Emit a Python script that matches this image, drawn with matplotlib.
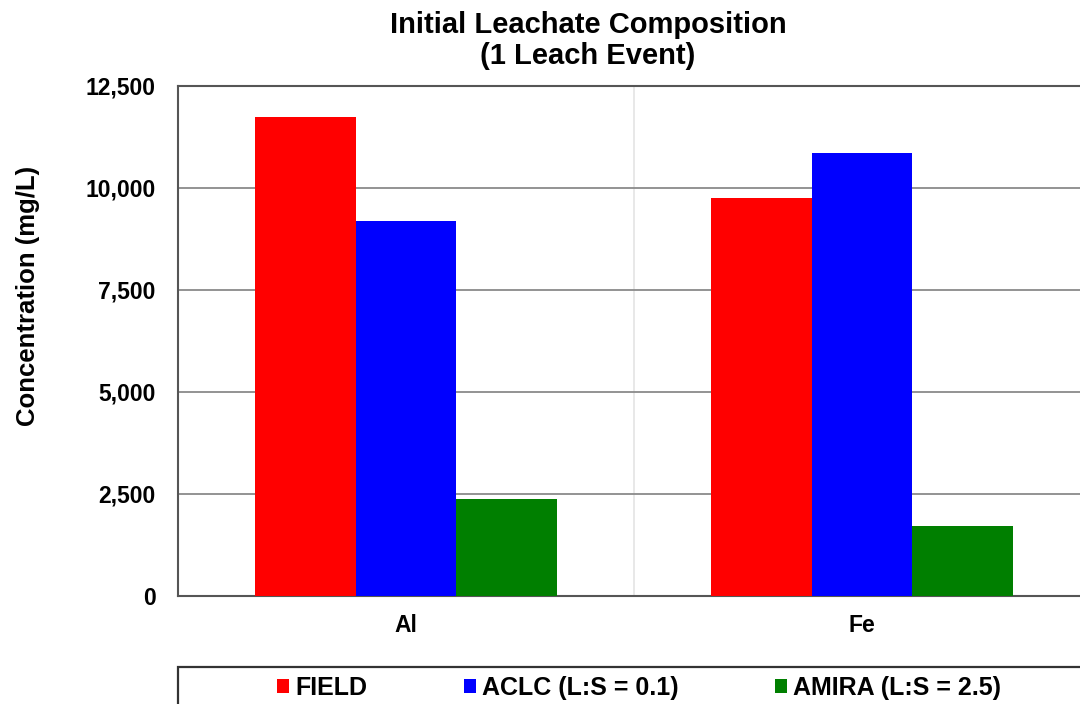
import matplotlib.pyplot as plt
from matplotlib.patches import Rectangle
import numpy as np

categories = ['Al', 'Fe']
series = ['FIELD', 'ACLC (L:S = 0.1)', 'AMIRA (L:S = 2.5)']
field = [11750, 9750]
aclc = [9200, 10850]
amira = [2380, 1720]
colors = ['#ff0000', '#0000ff', '#007f00']

plt.rcParams['font.family'] = ['Liberation Sans', 'DejaVu Sans']
plt.rcParams['font.weight'] = 'bold'

fig = plt.figure(figsize=(10.8, 7.04), dpi=100)
ax = fig.add_axes([178 / 1080, 1 - 596 / 704, 912 / 1080, 510 / 704])

x = np.arange(len(categories))
w = 0.221
for i, (vals, name) in enumerate(zip([field, aclc, amira], series)):
    ax.bar(x + (i - 1) * w, vals, w, color=colors[i], label=name, zorder=3)

ax.set_xlim(-0.5, 1.5)
ax.set_ylim(0, 12500)
ax.set_yticks(np.arange(0, 12501, 2500))
ax.set_yticklabels([f'{v:,}' for v in range(0, 12501, 2500)], fontsize=16.5, fontweight='bold')
ax.set_xticks(x)
ax.set_xticklabels(categories, fontsize=16.5, fontweight='bold')
ax.tick_params(length=0)
ax.tick_params(axis='y', pad=16)
ax.tick_params(axis='x', pad=13)
ax.yaxis.grid(True, color='#8a8a8a', linewidth=1.3, zorder=0)
ax.axvline(0.5, color='#e4e4e4', linewidth=1.2, zorder=0)
for s in ['left', 'top', 'bottom']:
    ax.spines[s].set_color('#555555')
    ax.spines[s].set_linewidth(1.5)
ax.spines['right'].set_visible(False)

ax.set_ylabel('Concentration (mg/L)', fontsize=18.5, fontweight='bold')
ax.yaxis.set_label_coords((40 - 178) / 912, (596 - 296) / 510)

fig.text(588 / 1080, 1 - 70 / 704, 'Initial Leachate Composition\n(1 Leach Event)',
         ha='center', va='bottom', fontsize=21, fontweight='bold', linespacing=1.12)

# legend box (runs off the right and bottom edges like the original)
fig.add_artist(Rectangle((178 / 1080, -0.1), 1.0, 0.1 + 1 - 667 / 704,
                         transform=fig.transFigure, fill=False,
                         edgecolor='#333333', linewidth=1.6))
fig.legend(loc='center left', bbox_to_anchor=(277 / 1080, 1 - 688 / 704),
           ncol=3, borderaxespad=0, borderpad=0, fontsize=18, frameon=False,
           handlelength=0.48, handleheight=0.48, handletextpad=0.25,
           columnspacing=3.85)

fig.savefig('out.png', dpi=100)
